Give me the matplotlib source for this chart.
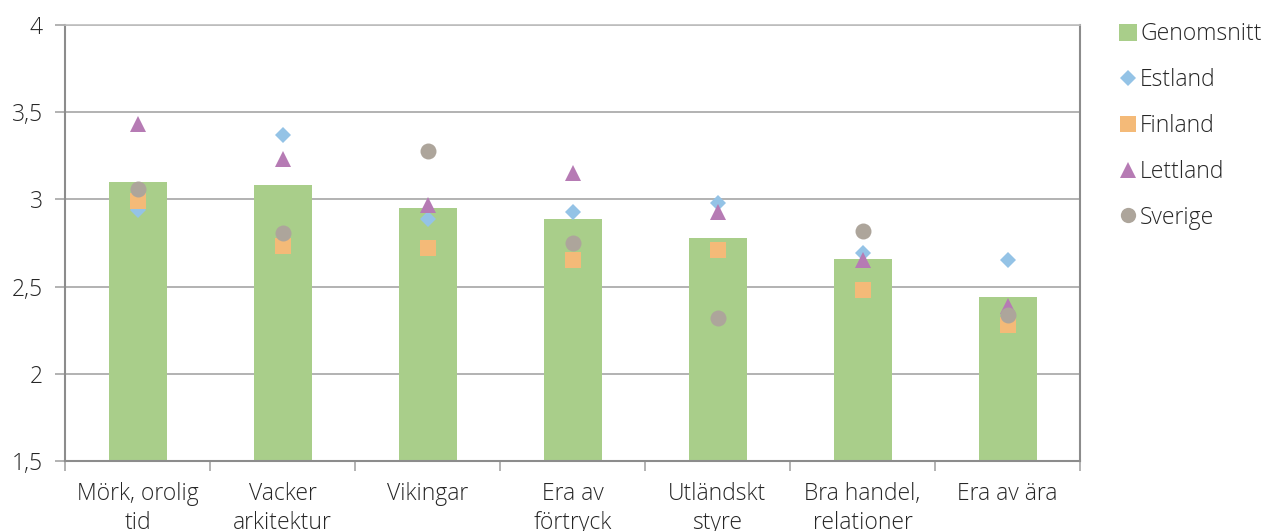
import matplotlib
matplotlib.use("Agg")
import matplotlib.pyplot as plt
from matplotlib.patches import Patch
from matplotlib.lines import Line2D
import numpy as np

plt.rcParams['font.family'] = ['Open Sans', 'DejaVu Sans']
plt.rcParams['font.weight'] = 'light'

categories = ["Mörk, orolig\ntid", "Vacker\narkitektur", "Vikingar", "Era av\nförtryck",
              "Utländskt\nstyre", "Bra handel,\nrelationer", "Era av ära"]
genomsnitt = [3.10, 3.08, 2.95, 2.89, 2.78, 2.66, 2.44]
estland = [2.94, 3.37, 2.89, 2.93, 2.98, 2.69, 2.65]
finland = [2.99, 2.73, 2.72, 2.65, 2.71, 2.48, 2.28]
lettland = [3.43, 3.23, 2.97, 3.15, 2.93, 2.65, 2.39]
sverige = [3.06, 2.81, 3.28, 2.75, 2.32, 2.82, 2.34]
yticks = [1.5, 2, 2.5, 3, 3.5, 4]
ytick_labels = ["1,5", "2", "2,5", "3", "3,5", "4"]

c_green = "#A9CE8A"
c_blue = "#94C3E6"
c_orange = "#F4BA78"
c_purple = "#B67BB4"
c_gray = "#ADA59B"
txt = "#262626"
fs = 16.5

fig = plt.figure(figsize=(12.64, 5.31), dpi=100)
ax = fig.add_axes([65/1264, 1 - 461/531, (1080-65)/1264, (461-25)/531])

x = np.arange(len(categories))
ax.bar(x, genomsnitt, width=0.4, color=c_green, zorder=2)
ax.plot(x, estland, 'D', color=c_blue, ms=8.5, mew=0, zorder=3)
ax.plot(x, finland, 's', color=c_orange, ms=11, mew=0, zorder=4)
ax.plot(x, lettland, '^', color=c_purple, ms=12, mew=0, zorder=5)
ax.plot(x, sverige, 'o', color=c_gray, ms=11.5, mew=0, zorder=6)

ax.set_xlim(-0.5, len(categories) - 0.5)
ax.set_ylim(1.5, 4)
ax.set_yticks(yticks)
ax.set_yticklabels(ytick_labels)
ax.yaxis.grid(True, color="#A6A6A6", lw=1.2, zorder=0)
ax.set_axisbelow(True)

ax.set_xticks(x)
ax.set_xticklabels(categories, fontsize=fs, color=txt, linespacing=1.3, fontweight='light')
ax.set_xticks(np.arange(-0.5, len(categories)), minor=True)
ax.tick_params(axis='x', which='major', length=0, pad=15)
ax.tick_params(axis='x', which='minor', length=7, width=1.2, color="#A6A6A6", direction='out')
ax.tick_params(axis='y', length=7, width=1.2, color="#A6A6A6", labelsize=fs, labelcolor=txt, pad=9)
for t in ax.get_yticklabels():
    t.set_fontweight('light')

for s in ['left', 'bottom', 'right']:
    ax.spines[s].set_color("#8C8C8C")
    ax.spines[s].set_linewidth(1.5)
ax.spines['top'].set_color("#BFBFBF")
ax.spines['top'].set_linewidth(1.2)

handles = [
    Patch(facecolor=c_green, edgecolor='none'),
    Line2D([], [], marker='D', color=c_blue, ls='none', ms=8, mew=0),
    Line2D([], [], marker='s', color=c_orange, ls='none', ms=11, mew=0),
    Line2D([], [], marker='^', color=c_purple, ls='none', ms=12, mew=0),
    Line2D([], [], marker='o', color=c_gray, ls='none', ms=11, mew=0),
]
labels = ["Genomsnitt", "Estland", "Finland", "Lettland", "Sverige"]
leg = fig.legend(handles, labels, loc='upper left', bbox_to_anchor=(1108/1264, 1 - 11/531),
                 frameon=False, labelspacing=0.95, handlelength=0.75,
                 handleheight=0.75, handletextpad=0.15, borderpad=0, labelcolor=txt,
                 prop={'weight': 'light', 'size': fs})

fig.savefig("out.png", dpi=100)
